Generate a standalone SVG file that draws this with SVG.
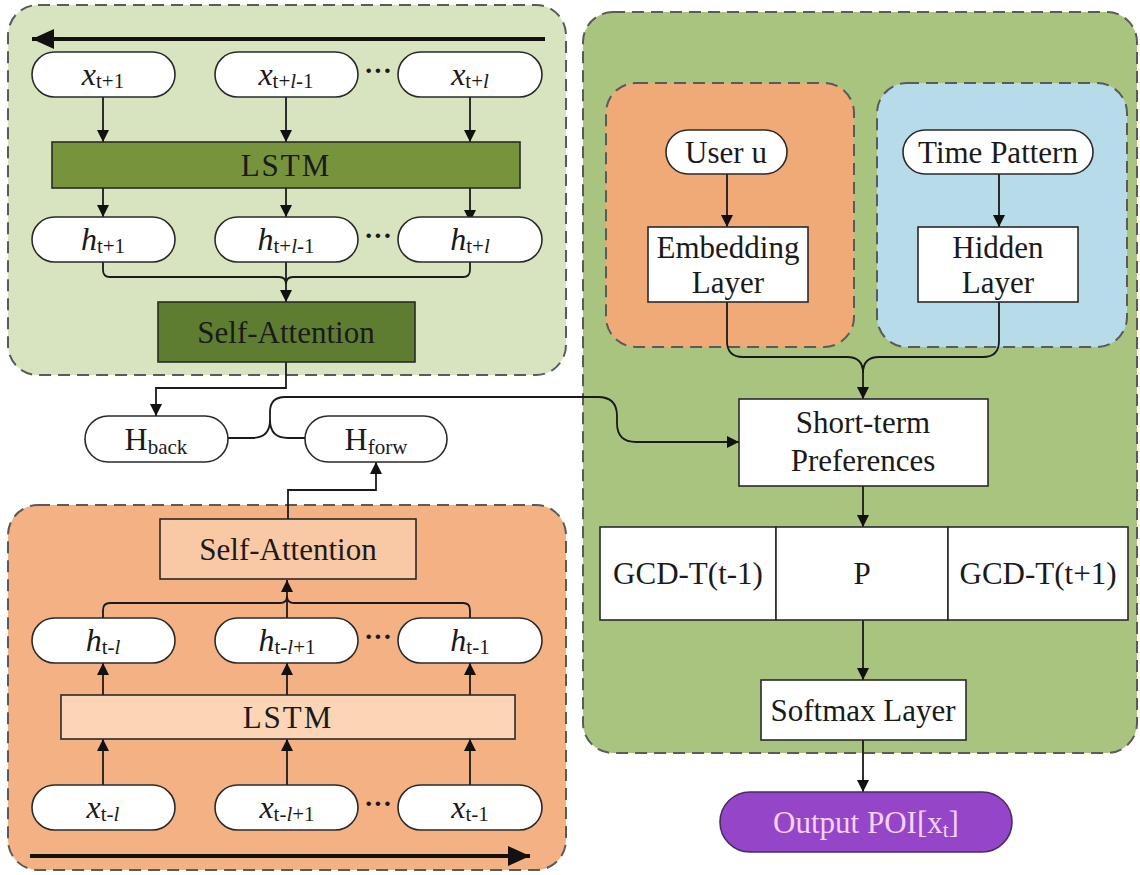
<svg xmlns="http://www.w3.org/2000/svg" width="1140" height="875" viewBox="0 0 1140 875">
<defs>
<marker id="ah" markerWidth="12" markerHeight="12" refX="12" refY="6" orient="auto" markerUnits="userSpaceOnUse"><path d="M0,0 L12,6 L0,12 z" fill="#111"/></marker>
<marker id="bh" markerWidth="22" markerHeight="20" refX="22" refY="10" orient="auto" markerUnits="userSpaceOnUse"><path d="M0,0 L22,10 L0,20 z" fill="#111"/></marker>
<style>
.panel{stroke:#5a5a5a;stroke-width:2;stroke-dasharray:12 7}
.node{fill:#fff;stroke:#2a2a2a;stroke-width:1.6}
.box{stroke:#2a2a2a;stroke-width:1.6}
.t{font-family:"Liberation Serif","Times New Roman",serif;font-size:31px;fill:#1a1a1a;text-anchor:middle}
.v{font-family:"Liberation Serif","Times New Roman",serif;font-size:32px;fill:#1a1a1a;text-anchor:middle}
.i{font-style:italic}
.s{font-size:21px}
.c{fill:none;stroke:#1a1a1a;stroke-width:1.8}
.big{fill:none;stroke:#111;stroke-width:4}
.dots{font-family:"Liberation Serif",serif;font-size:28px;font-weight:bold;fill:#1a1a1a;text-anchor:middle}
</style>
</defs>
<rect width="1140" height="875" fill="#fff"/>

<g id="panel-backward">
<rect class="panel" x="8" y="5" width="558" height="370" rx="30" fill="#d8e4bf"/>
</g>
<g id="panel-forward">
<rect class="panel" x="8" y="505" width="558" height="365" rx="30" fill="#f4b183"/>
</g>
<g id="panel-right">
<rect class="panel" x="583" y="12" width="554" height="741" rx="30" fill="#a9c47f"/>
</g>
<g id="panel-user">
<rect class="panel" x="606" y="83" width="248" height="264" rx="30" fill="#f0aa78"/>
</g>
<g id="panel-time">
<rect class="panel" x="877" y="83" width="250" height="264" rx="30" fill="#b7dbe8"/>
</g>

<g id="connectors">
<line class="big" x1="545" y1="39" x2="32" y2="39" marker-end="url(#bh)"/>
<line class="big" x1="30" y1="856" x2="530" y2="856" marker-end="url(#bh)"/>
<line class="c" x1="103" y1="97" x2="103" y2="142" marker-end="url(#ah)"/>
<line class="c" x1="286" y1="97" x2="286" y2="142" marker-end="url(#ah)"/>
<line class="c" x1="470" y1="97" x2="470" y2="142" marker-end="url(#ah)"/>
<line class="c" x1="103" y1="188" x2="103" y2="217" marker-end="url(#ah)"/>
<line class="c" x1="286" y1="188" x2="286" y2="217" marker-end="url(#ah)"/>
<line class="c" x1="470" y1="188" x2="470" y2="222" marker-end="url(#ah)"/>
<path class="c" d="M103,262 V270 Q103,277 110,277 H279 Q286,277 286,284"/>
<path class="c" d="M470,262 V270 Q470,277 463,277 H293 Q286,277 286,284"/>
<line class="c" x1="286" y1="262" x2="286" y2="302" marker-end="url(#ah)"/>
<path class="c" d="M286,362 V388 H156 V416" marker-end="url(#ah)"/>
<path class="c" d="M228,438 H252 Q270,438 270,420 V412 Q270,397 285,397 H598 Q617,397 617,416 V423 Q617,442 636,442 H739" marker-end="url(#ah)"/>
<path class="c" d="M305,438 H288 Q270,438 270,420"/>
<path class="c" d="M288,519 V490 H376 V462" marker-end="url(#ah)"/>
<line class="c" x1="103" y1="785" x2="103" y2="739" marker-end="url(#ah)"/>
<line class="c" x1="287" y1="785" x2="287" y2="739" marker-end="url(#ah)"/>
<line class="c" x1="470" y1="785" x2="470" y2="739" marker-end="url(#ah)"/>
<line class="c" x1="103" y1="695" x2="103" y2="663" marker-end="url(#ah)"/>
<line class="c" x1="287" y1="695" x2="287" y2="663" marker-end="url(#ah)"/>
<line class="c" x1="470" y1="695" x2="470" y2="663" marker-end="url(#ah)"/>
<path class="c" d="M103,618 V610 Q103,603 110,603 H280 Q287,603 287,596"/>
<path class="c" d="M470,618 V610 Q470,603 463,603 H294 Q287,603 287,596"/>
<line class="c" x1="287" y1="618" x2="287" y2="580" marker-end="url(#ah)"/>
<line class="c" x1="727" y1="174" x2="727" y2="227" marker-end="url(#ah)"/>
<line class="c" x1="999" y1="174" x2="999" y2="227" marker-end="url(#ah)"/>
<path class="c" d="M727,302 V341 Q727,357 743,357 H847 Q863,357 863,373"/>
<path class="c" d="M999,302 V341 Q999,357 983,357 H879 Q863,357 863,373"/>
<line class="c" x1="863" y1="370" x2="863" y2="399" marker-end="url(#ah)"/>
<line class="c" x1="863" y1="486" x2="863" y2="527" marker-end="url(#ah)"/>
<line class="c" x1="863" y1="620" x2="863" y2="680" marker-end="url(#ah)"/>
<line class="c" x1="863" y1="740" x2="863" y2="792" marker-end="url(#ah)"/>
</g>

<g id="x-t1"><rect class="node" x="32" y="52" width="143" height="45" rx="22.5"/><text class="v" x="103" y="85"><tspan class="i">x</tspan><tspan class="s" dy="3">t+1</tspan></text></g>
<g id="x-tl1"><rect class="node" x="215" y="52" width="143" height="45" rx="22.5"/><text class="v" x="286" y="85"><tspan class="i">x</tspan><tspan class="s" dy="3">t+</tspan><tspan class="s i">l</tspan><tspan class="s">-1</tspan></text></g>
<g id="x-tl"><rect class="node" x="398" y="52" width="144" height="45" rx="22.5"/><text class="v" x="470" y="85"><tspan class="i">x</tspan><tspan class="s" dy="3">t+</tspan><tspan class="s i">l</tspan></text></g>
<text class="dots" x="378" y="80">···</text>
<g id="lstm-back"><rect class="box" x="52" y="142" width="468" height="46" fill="#77933c"/><text class="t" x="286" y="176" letter-spacing="2">LSTM</text></g>
<g id="h-t1"><rect class="node" x="32" y="217" width="143" height="45" rx="22.5"/><text class="v" x="103" y="250"><tspan class="i">h</tspan><tspan class="s" dy="3">t+1</tspan></text></g>
<g id="h-tl1"><rect class="node" x="215" y="217" width="143" height="45" rx="22.5"/><text class="v" x="286" y="250"><tspan class="i">h</tspan><tspan class="s" dy="3">t+</tspan><tspan class="s i">l</tspan><tspan class="s">-1</tspan></text></g>
<g id="h-tl"><rect class="node" x="398" y="217" width="144" height="45" rx="22.5"/><text class="v" x="470" y="250"><tspan class="i">h</tspan><tspan class="s" dy="3">t+</tspan><tspan class="s i">l</tspan></text></g>
<text class="dots" x="378" y="245">···</text>
<g id="sa-back"><rect class="box" x="158" y="302" width="257" height="60" fill="#5f7d31"/><text class="t" x="286" y="343">Self-Attention</text></g>

<g id="h-back"><rect class="node" x="85" y="416" width="143" height="46" rx="23"/><text class="v" x="156" y="450">H<tspan class="s" dy="4">back</tspan></text></g>
<g id="h-forw"><rect class="node" x="305" y="416" width="142" height="46" rx="23"/><text class="v" x="376" y="450">H<tspan class="s" dy="4">forw</tspan></text></g>

<g id="sa-forw"><rect class="box" x="160" y="519" width="256" height="60" fill="#f9c9a6"/><text class="t" x="288" y="560">Self-Attention</text></g>
<g id="h-tml"><rect class="node" x="32" y="618" width="143" height="45" rx="22.5"/><text class="v" x="103" y="651"><tspan class="i">h</tspan><tspan class="s" dy="3">t-</tspan><tspan class="s i">l</tspan></text></g>
<g id="h-tml1"><rect class="node" x="215" y="618" width="143" height="45" rx="22.5"/><text class="v" x="287" y="651"><tspan class="i">h</tspan><tspan class="s" dy="3">t-</tspan><tspan class="s i">l</tspan><tspan class="s">+1</tspan></text></g>
<g id="h-tm1"><rect class="node" x="398" y="618" width="144" height="45" rx="22.5"/><text class="v" x="470" y="651"><tspan class="i">h</tspan><tspan class="s" dy="3">t-1</tspan></text></g>
<text class="dots" x="378" y="646">···</text>
<g id="lstm-forw"><rect class="box" x="61" y="695" width="454" height="44" fill="#fbd5b6"/><text class="t" x="288" y="728" letter-spacing="2">LSTM</text></g>
<g id="x-tml"><rect class="node" x="32" y="785" width="143" height="45" rx="22.5"/><text class="v" x="103" y="818"><tspan class="i">x</tspan><tspan class="s" dy="3">t-</tspan><tspan class="s i">l</tspan></text></g>
<g id="x-tml1"><rect class="node" x="215" y="785" width="143" height="45" rx="22.5"/><text class="v" x="287" y="818"><tspan class="i">x</tspan><tspan class="s" dy="3">t-</tspan><tspan class="s i">l</tspan><tspan class="s">+1</tspan></text></g>
<g id="x-tm1"><rect class="node" x="398" y="785" width="144" height="45" rx="22.5"/><text class="v" x="470" y="818"><tspan class="i">x</tspan><tspan class="s" dy="3">t-1</tspan></text></g>
<text class="dots" x="378" y="813">···</text>

<g id="user"><rect class="node" x="666" y="130" width="121" height="44" rx="22"/><text class="t" x="726" y="163">User u</text></g>
<g id="embedding"><rect class="box" x="648" y="227" width="160" height="75" fill="#fff"/><text class="t" x="728" y="258">Embedding</text><text class="t" x="728" y="293">Layer</text></g>
<g id="time"><rect class="node" x="903" y="130" width="190" height="44" rx="22"/><text class="t" x="998" y="163">Time Pattern</text></g>
<g id="hidden"><rect class="box" x="918" y="227" width="160" height="75" fill="#fff"/><text class="t" x="998" y="258">Hidden</text><text class="t" x="998" y="293">Layer</text></g>
<g id="short-term"><rect class="box" x="739" y="399" width="249" height="87" fill="#fff"/><text class="t" x="863" y="433">Short-term</text><text class="t" x="863" y="471">Preferences</text></g>
<g id="gcd-prev"><rect class="box" x="600" y="527" width="176" height="93" fill="#fff"/><text class="t" x="688" y="584">GCD-T(t-1)</text></g>
<g id="p"><rect class="box" x="776" y="527" width="172" height="93" fill="#fff"/><text class="t" x="862" y="584">P</text></g>
<g id="gcd-next"><rect class="box" x="948" y="527" width="180" height="93" fill="#fff"/><text class="t" x="1038" y="584">GCD-T(t+1)</text></g>
<g id="softmax"><rect class="box" x="761" y="680" width="205" height="60" fill="#fff"/><text class="t" x="863" y="721">Softmax Layer</text></g>
<g id="output"><rect x="720" y="792" width="292" height="60" rx="30" fill="#9546c8" stroke="#4a2a63" stroke-width="1.6"/><text class="t" x="866" y="833" style="fill:#f6d2f6">Output POI[x<tspan class="s" dy="4">t</tspan><tspan dy="-4">]</tspan></text></g>
</svg>
